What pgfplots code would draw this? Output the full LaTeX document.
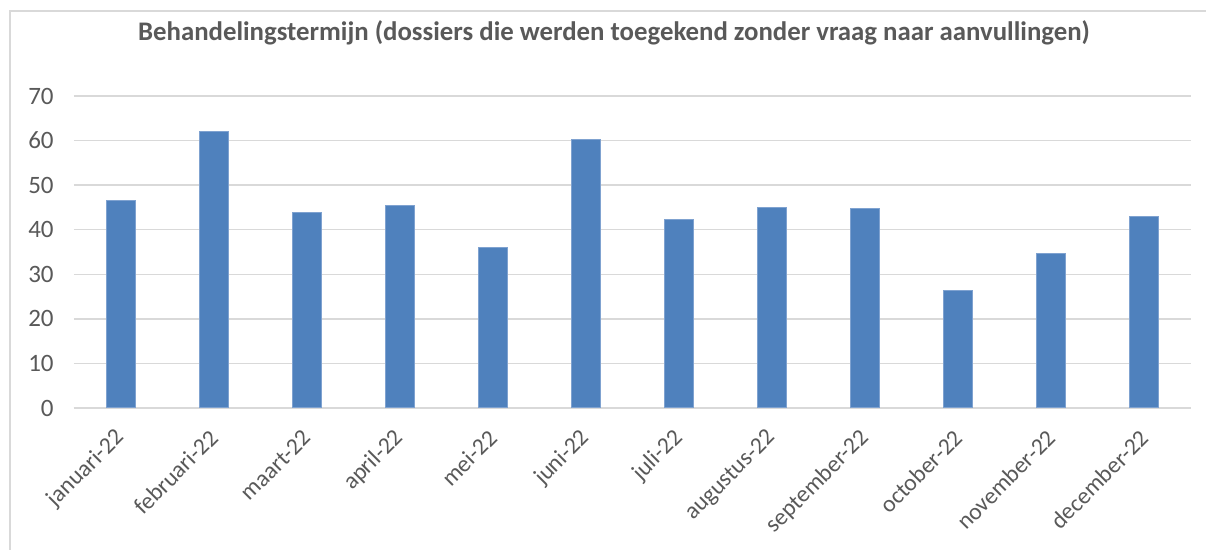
\documentclass[border=0pt]{standalone}
\usepackage{fontspec}
\setmainfont{Carlito}
\usepackage{pgfplots}
\pgfplotsset{compat=1.18}
\definecolor{barblue}{HTML}{4F81BD}
\definecolor{baredge}{HTML}{7FA2D0}
\definecolor{gridgray}{HTML}{D9D9D9}
\definecolor{txtgray}{HTML}{595959}
\definecolor{framegray}{HTML}{D9D9D9}
\begin{document}
\begin{tikzpicture}
\useasboundingbox (0,0) rectangle (603pt,275pt);
\fill[white] (0,0) rectangle (603pt,275pt);
\draw[framegray, line width=0.75pt] (5pt,-2pt) -- (5pt,269.5pt) -- (605pt,269.5pt);
\node[anchor=base, font=\bfseries\fontsize{13.4}{15}\selectfont, text=txtgray, inner sep=0pt] at (307pt,254.5pt)
  {Behandelingstermijn (dossiers die werden toegekend zonder vraag naar aanvullingen)};
\begin{axis}[
  at={(37pt,71pt)}, anchor=south west,
  scale only axis,
  width=558.5pt, height=156pt,
  xmin=-0.5, xmax=11.5,
  ymin=0, ymax=70,
  ytick={0,10,...,70},
  xtick={0,...,11},
  xticklabels={januari-22,februari-22,maart-22,april-22,mei-22,juni-22,juli-22,augustus-22,september-22,october-22,november-22,december-22},
  extra x ticks={-0.5,0.5,...,11.5},
  extra x tick labels={},
  extra x tick style={major tick length=3pt, tick style={gridgray, line width=0.75pt}, tick align=outside, grid=none},
  major x tick style={draw=none},
  axis x line*=bottom,
  axis y line*=left,
  y axis line style={draw=none},
  x axis line style={gridgray, line width=0.75pt, -},
  ymajorgrids,
  grid style={gridgray, line width=0.75pt},
  ytick style={draw=none},
  tick label style={font=\fontsize{12.5}{14}\selectfont, text=txtgray},
  /pgf/number format/assume math mode=true,
  yticklabel style={anchor=east, inner sep=0pt, xshift=-10pt},
  xticklabel style={font=\fontsize{11.8}{14}\selectfont, rotate=45, anchor=east, inner sep=0pt, yshift=-6.3pt, xshift=-6pt},
  ybar, bar width=14.5pt, bar shift=0pt,
  clip=false,
]
\addplot[fill=barblue, draw=baredge, line width=0.5pt] coordinates {
  (0,46.6) (1,62.1) (2,43.9) (3,45.4) (4,36.0) (5,60.2)
  (6,42.4) (7,45.0) (8,44.8) (9,26.4) (10,34.7) (11,43.0)
};
\end{axis}
\end{tikzpicture}
\end{document}
